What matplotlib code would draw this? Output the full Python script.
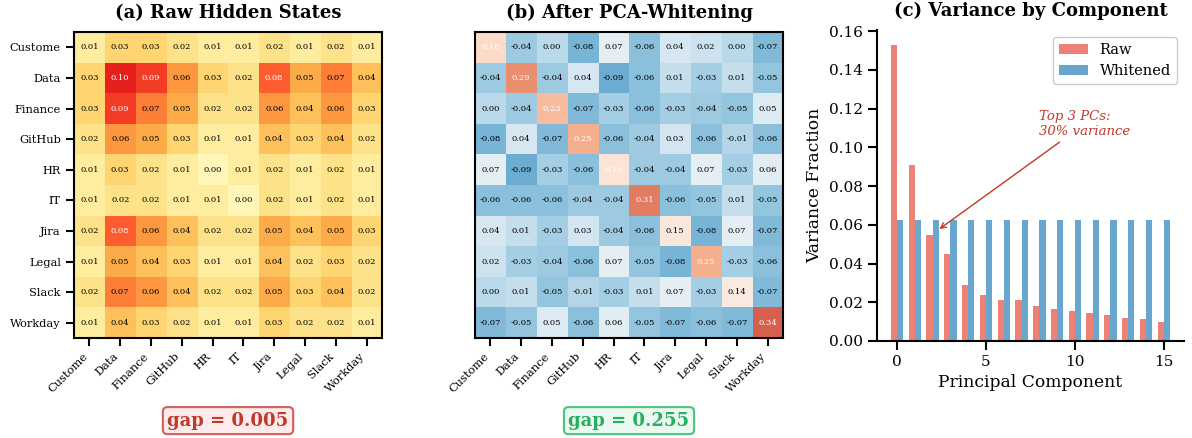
import matplotlib
matplotlib.use("Agg")
import matplotlib.pyplot as plt
import numpy as np

plt.rcParams['font.family'] = ['DejaVu Serif']

# categories (labels truncated to 7 chars as in the original)
labels = ["Custome", "Data", "Finance", "GitHub", "HR", "IT", "Jira", "Legal", "Slack", "Workday"]

raw_sim = np.array([
    [0.01, 0.03, 0.03, 0.02, 0.01, 0.01, 0.02, 0.01, 0.02, 0.01],
    [0.03, 0.10, 0.09, 0.06, 0.03, 0.02, 0.08, 0.05, 0.07, 0.04],
    [0.03, 0.09, 0.07, 0.05, 0.02, 0.02, 0.06, 0.04, 0.06, 0.03],
    [0.02, 0.06, 0.05, 0.03, 0.01, 0.01, 0.04, 0.03, 0.04, 0.02],
    [0.01, 0.03, 0.02, 0.01, 0.00, 0.01, 0.02, 0.01, 0.02, 0.01],
    [0.01, 0.02, 0.02, 0.01, 0.01, 0.00, 0.02, 0.01, 0.02, 0.01],
    [0.02, 0.08, 0.06, 0.04, 0.02, 0.02, 0.05, 0.04, 0.05, 0.03],
    [0.01, 0.05, 0.04, 0.03, 0.01, 0.01, 0.04, 0.02, 0.03, 0.02],
    [0.02, 0.07, 0.06, 0.04, 0.02, 0.02, 0.05, 0.03, 0.04, 0.02],
    [0.01, 0.04, 0.03, 0.02, 0.01, 0.01, 0.03, 0.02, 0.02, 0.01],
])

white_sim = np.array([
    [0.18, -0.04, 0.00, -0.08, 0.07, -0.06, 0.04, 0.02, 0.00, -0.07],
    [-0.04, 0.29, -0.04, 0.04, -0.09, -0.06, 0.01, -0.03, 0.01, -0.05],
    [0.00, -0.04, 0.23, -0.07, -0.03, -0.06, -0.03, -0.04, -0.05, 0.05],
    [-0.08, 0.04, -0.07, 0.25, -0.06, -0.04, 0.03, -0.06, -0.01, -0.06],
    [0.07, -0.09, -0.03, -0.06, 0.16, -0.04, -0.04, 0.07, -0.03, 0.06],
    [-0.06, -0.06, -0.06, -0.04, -0.04, 0.31, -0.06, -0.05, 0.01, -0.05],
    [0.04, 0.01, -0.03, 0.03, -0.04, -0.06, 0.15, -0.08, 0.07, -0.07],
    [0.02, -0.03, -0.04, -0.06, 0.07, -0.05, -0.08, 0.25, -0.03, -0.06],
    [0.00, 0.01, -0.05, -0.01, -0.03, 0.01, 0.07, -0.03, 0.14, -0.07],
    [-0.07, -0.05, 0.05, -0.06, 0.06, -0.05, -0.07, -0.06, -0.07, 0.34],
])

raw_var = [0.153, 0.091, 0.055, 0.045, 0.029, 0.0235, 0.021, 0.021,
           0.018, 0.0163, 0.0157, 0.0143, 0.0132, 0.0121, 0.0115, 0.0099]
white_var = [0.0625] * 16

gap_raw = 0.005
gap_white = 0.255

fig = plt.figure(figsize=(11.92, 4.38), dpi=100)
ax1 = fig.add_axes([0.0621, 0.2283, 0.2584, 0.6986])
ax2 = fig.add_axes([0.3985, 0.2283, 0.2584, 0.6986])
ax3 = fig.add_axes([0.7357, 0.2215, 0.2576, 0.7100])


def draw_heatmap(ax, mat, cmap, vmin, vmax, thresh, title):
    ax.imshow(mat, cmap=cmap, vmin=vmin, vmax=vmax, aspect='auto')
    n = mat.shape[0]
    for i in range(n):
        for j in range(n):
            v = mat[i, j]
            ax.text(j, i, f"{v:.2f}", ha='center', va='center', fontsize=6,
                    color='white' if v > thresh else 'black')
    ax.set_xticks(range(n))
    ax.set_yticks(range(n))
    ax.set_xticklabels(labels, rotation=45, ha='right', fontsize=8.2)
    ax.set_yticklabels(labels, fontsize=8.2)
    ax.tick_params(length=6, width=1.5)
    for s in ax.spines.values():
        s.set_linewidth(1.5)
    ax.set_title(title, fontsize=13, fontweight='bold', pad=10)


draw_heatmap(ax1, raw_sim, 'YlOrRd', -0.009, 0.14, 0.075, "(a) Raw Hidden States")
draw_heatmap(ax2, white_sim, 'RdBu_r', -0.29, 0.50, 0.155, "(b) After PCA-Whitening")
ax2.set_yticks([])

ax1.text(0.5, -0.27, f"gap = {gap_raw:.3f}", transform=ax1.transAxes, ha='center', va='center',
         fontsize=13, fontweight='bold', color='#c0392b',
         bbox=dict(boxstyle='round,pad=0.25', facecolor='#fdeceb', edgecolor='#d0605a', linewidth=1.5))
ax2.text(0.5, -0.27, f"gap = {gap_white:.3f}", transform=ax2.transAxes, ha='center', va='center',
         fontsize=13, fontweight='bold', color='#27ae60',
         bbox=dict(boxstyle='round,pad=0.25', facecolor='#ecf9f1', edgecolor='#4cc47e', linewidth=1.5))

# panel c
x = np.arange(len(raw_var))
w = 0.35
ax3.bar(x - w / 2, raw_var, w, color='#e74c3c', alpha=0.7, label='Raw')
ax3.bar(x + w / 2, white_var, w, color='#2980b9', alpha=0.7, label='Whitened')
ax3.set_xticks([0, 5, 10, 15])
ax3.set_yticks(np.arange(0, 0.161, 0.02))
ax3.set_xlabel('Principal Component', fontsize=12.3)
ax3.set_ylabel('Variance Fraction', fontsize=12.3)
ax3.tick_params(labelsize=11, length=6.5, width=1.5)
ax3.spines['top'].set_visible(False)
ax3.spines['right'].set_visible(False)
ax3.spines['left'].set_linewidth(1.5)
ax3.spines['bottom'].set_linewidth(1.5)
ax3.set_title("(c) Variance by Component", fontsize=13, fontweight='bold', pad=10)
ax3.legend(loc='upper right', fontsize=10.5, edgecolor='#cccccc', framealpha=1)
ax3.annotate("Top 3 PCs:\n30% variance", xy=(2.25, 0.057), xytext=(8.0, 0.105),
             ha='left', va='bottom', fontsize=9.5, style='italic', color='#c0392b',
             arrowprops=dict(arrowstyle='->', color='#c0392b', lw=1))

fig.savefig("out.png", dpi=100)
